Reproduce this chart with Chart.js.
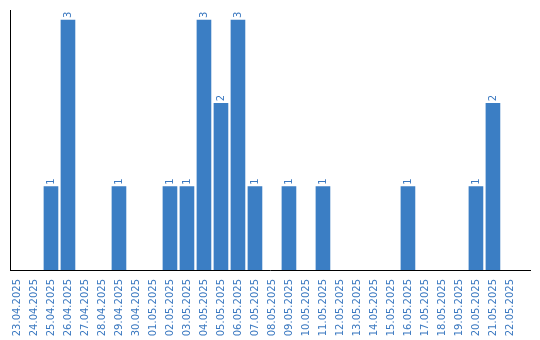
<!DOCTYPE html>
<html>
<head>
<meta charset="utf-8">
<script src="https://cdn.jsdelivr.net/npm/chart.js@4/dist/chart.umd.min.js"></script>
<style>
  html, body { margin: 0; padding: 0; background: #fff; }
  #wrap { width: 540px; height: 340px; }
</style>
</head>
<body>
<div id="wrap"><canvas id="myChart" width="540" height="340"></canvas></div>
<script>
let dates = ["23.04.2025", "24.04.2025", "25.04.2025", "26.04.2025", "27.04.2025", "28.04.2025",
    "29.04.2025", "30.04.2025", "01.05.2025", "02.05.2025", "03.05.2025", "04.05.2025",
    "05.05.2025", "06.05.2025", "07.05.2025", "08.05.2025", "09.05.2025", "10.05.2025",
    "11.05.2025", "12.05.2025", "13.05.2025", "14.05.2025", "15.05.2025", "16.05.2025",
    "17.05.2025", "18.05.2025", "19.05.2025", "20.05.2025", "21.05.2025", "22.05.2025"];
let counts = [0, 0, 1, 3, 0, 0, 1, 0, 0, 1, 1, 3, 2, 3, 1, 0, 1, 0, 1, 0, 0, 0, 0, 1, 0, 0, 0, 1, 2, 0];

let barColor = "#3b7ec4";
let textColor = "#3a78c0";

// value labels above the bars, rotated like the dates
let valueLabels = {
    id: "valueLabels",
    afterDatasetsDraw(chart) {
        let ctx = chart.ctx;
        let meta = chart.getDatasetMeta(0);
        ctx.save();
        ctx.font = "10px 'DejaVu Sans'";
        ctx.fillStyle = textColor;
        ctx.textAlign = "left";
        ctx.textBaseline = "middle";
        meta.data.forEach((bar, i) => {
            if (!counts[i] || !bar) return;
            ctx.save();
            ctx.translate(bar.x, bar.y - 2);
            ctx.rotate(-Math.PI / 2);
            ctx.fillText(String(counts[i]), 0, 0);
            ctx.restore();
        });
        ctx.restore();
    }
};

let myChart = document.getElementById("myChart").getContext("2d");

let countChart = new Chart(myChart, {
    type: "bar",
    data: {
        datasets: [
            {
                // empty days get no bar at all
                data: counts.map((v, i) => ({ x: i, y: v === 0 ? null : v })),
                backgroundColor: barColor,
                borderWidth: 0,
                barThickness: 14
            }
        ]
    },
    options: {
        responsive: false,
        animation: false,
        layout: { padding: { top: 10, left: 10, right: 10, bottom: 0 } },
        plugins: {
            legend: { display: false },
            tooltip: { enabled: false }
        },
        scales: {
            x: {
                type: "linear",
                offset: false,
                min: -0.41,
                max: 30.18,
                afterBuildTicks: (scale) => {
                    scale.ticks = dates.map((d, i) => ({ value: i }));
                },
                afterFit: (scale) => { scale.height = 70; },
                grid: { display: false },
                border: { color: "#000", width: 1 },
                ticks: {
                    autoSkip: false,
                    minRotation: 90,
                    maxRotation: 90,
                    padding: 1,
                    color: textColor,
                    font: { family: "DejaVu Sans", size: 10 },
                    callback: (v) => dates[v]
                }
            },
            y: {
                min: 0,
                max: 3.12,
                afterFit: (scale) => { scale.width = 0; },
                grid: { display: false },
                border: { color: "#000", width: 1 },
                ticks: { display: false }
            }
        }
    },
    plugins: [valueLabels]
});
</script>
</body>
</html>
